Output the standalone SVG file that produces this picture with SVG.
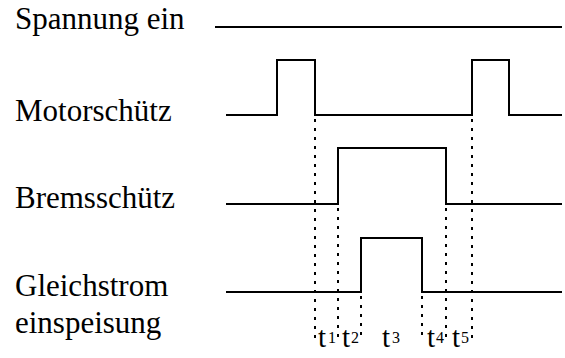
<svg xmlns="http://www.w3.org/2000/svg" width="565" height="358" viewBox="0 0 565 358">
<style>
text{font-family:'Liberation Serif','Times New Roman',Times,'DejaVu Serif',serif;fill:#000}
.lbl{font-size:31px}
.t{font-size:29px}
.s{font-size:16px}
.sig{fill:none;stroke:#000;stroke-width:2;stroke-linejoin:miter}
.dot{fill:none;stroke:#000;stroke-width:2;stroke-dasharray:3 6}
</style>
<rect width="565" height="358" fill="#fff"/>
<g id="spannung">
<text class="lbl" x="15" y="29" font-family="Liberation Serif, serif">Spannung ein</text>
<path class="sig" d="M215 27H562"/>
</g>
<g id="motorschuetz">
<text class="lbl" x="15" y="121" font-family="Liberation Serif, serif">Motorschütz</text>
<path class="sig" d="M226 115H277V60H315V115H472V60H509V115H562"/>
</g>
<g id="bremsschuetz">
<text class="lbl" x="15" y="208" font-family="Liberation Serif, serif">Bremsschütz</text>
<path class="sig" d="M226 204H338V148H446V204H562"/>
</g>
<g id="gleichstrom">
<text class="lbl" x="15" y="296" font-family="Liberation Serif, serif">Gleichstrom</text>
<text class="lbl" x="15" y="333" font-family="Liberation Serif, serif">einspeisung</text>
<path class="sig" d="M226 292H361V238H422V292H562"/>
</g>
<g id="connectors">
<path class="dot" d="M315 119V341"/>
<path class="dot" d="M472 119V341"/>
<path class="dot" d="M338 208V341"/>
<path class="dot" d="M446 208V341"/>
<path class="dot" d="M361 296V341"/>
<path class="dot" d="M422 296V341"/>
</g>
<g id="labels" font-family="Liberation Serif, serif">
<text class="t" x="318" y="347">t</text><text class="s" x="328" y="343">1</text>
<text class="t" x="342" y="347">t</text><text class="s" x="351" y="343">2</text>
<text class="t" x="382" y="347">t</text><text class="s" x="392" y="343">3</text>
<text class="t" x="427" y="347">t</text><text class="s" x="436" y="343">4</text>
<text class="t" x="452" y="347">t</text><text class="s" x="461" y="343">5</text>
</g>
</svg>
